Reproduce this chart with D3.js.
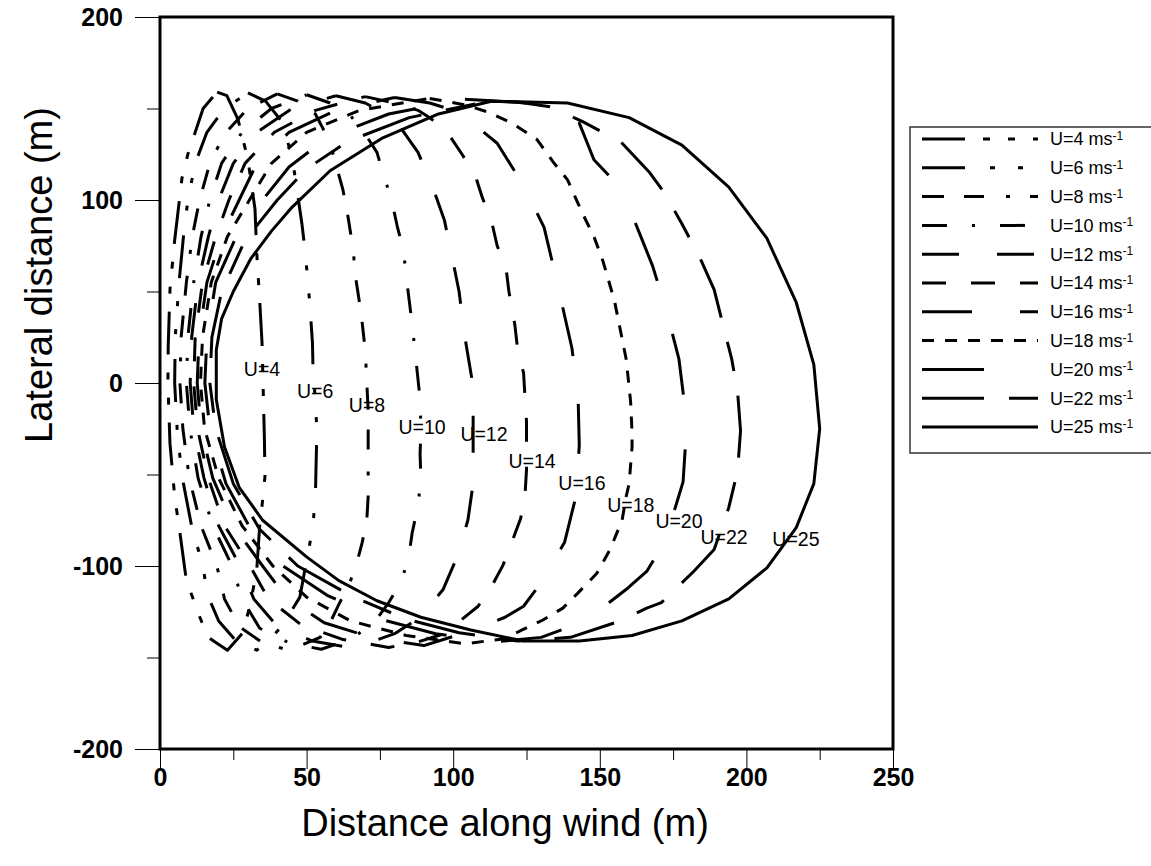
<!DOCTYPE html>
<html>
<head>
<meta charset="utf-8">
<script src="https://cdn.jsdelivr.net/npm/d3@7"></script>
<style>
    html, body { margin: 0; padding: 0; background: #fff; }
    svg { display: block; font-family: "Liberation Sans", Arial, sans-serif; }
</style>
</head>
<body>
<div id="chart"></div>
<script>
// wind speeds (m/s), one closed contour each
var speeds = [4, 6, 8, 10, 12, 14, 16, 18, 20, 22, 25];

// contour vertices [distance along wind (m), lateral distance (m)]
var u4  = [[19.5,159],[22.8,157],[26.6,144],[30,122],[32.4,95],[33,71],[34,45],[34.8,22],[35.2,-4],[35.6,-30],[35.8,-51],[35,-64],[34,-78],[33,-102],[30.7,-122],[28,-137],[23,-146],[16.4,-139],[13.6,-128],[9,-108],[6.8,-82],[5,-62],[3.4,-33],[2.7,0],[2.8,20],[3.4,51],[5,78],[7.5,112],[9.5,125],[12,137],[14.7,150],[19.5,159]];
var u6  = [[30,158.5],[36,154],[42,142],[45.4,120],[48.4,87],[49.5,72],[51,45],[52,22],[52.2,7],[53,-10],[53.5,-26],[53.2,-47],[53,-63],[52,-80],[50,-97],[47.7,-117],[42,-132],[37,-141],[33,-146],[26,-141],[20,-130],[16,-115],[14.7,-100],[11,-80],[8,-55],[6,-30],[5,0],[5.2,25],[6.5,55],[8,80],[9.5,100],[12,120],[16,137],[22,150],[30,158.5]];
var u8  = [[40,158],[47,154],[53,147],[55.6,139],[58.7,127],[62.4,105.5],[63.8,94],[65,82],[66,71],[66.5,60],[68.6,38],[70,18],[70.6,-2],[71,-15],[71,-35],[71,-51],[71,-62],[70.6,-73],[69,-87],[67.5,-96],[64.8,-109],[61,-121],[58,-131],[54.6,-139],[44,-146],[35,-142],[27,-133],[22,-118],[19.4,-100],[14,-78],[10,-52],[7.8,-25],[6.8,0],[7.2,25],[9,55],[11,80],[13.5,100],[17,120],[22,136],[30,150],[40,158]];
var u10 = [[50,157.5],[58,153],[65,146],[70,136],[74,126],[76,115],[79,100],[81,85],[83,73],[84,58],[85,45],[86,32],[87,17],[88,2],[88.7,-9],[89,-25],[88.7,-39],[89,-52],[88,-67],[86,-82],[85,-93],[82.5,-108],[78,-120],[73,-131],[65,-140],[55,-145.5],[44,-142],[34,-134],[28,-118],[24.6,-100],[18,-78],[13,-52],[10.2,-25],[9,0],[9.5,25],[11.5,55],[14,80],[17,100],[21,120],[28,137],[38,150],[50,157.5]];
var u12 = [[60,157],[70,153],[77,147],[81,142],[88,126],[93,107],[97,89],[99.6,69],[102,50],[104,25],[106.4,2],[106.8,-15],[106.8,-35],[106.8,-55],[105,-75],[101.6,-94],[96.5,-113],[88.7,-128],[80,-137],[66,-145],[52,-141],[40,-133],[32,-118],[27.3,-100],[20,-78],[15,-52],[11.5,-25],[10.3,0],[10.8,25],[13,55],[16.5,80],[20,100],[25,120],[33,137],[45,150],[60,157]];
var u14 = [[70,156.5],[80,153],[88,149],[92,145],[98,137],[103,125],[107.4,114],[110,101],[113,89],[115,75],[118,63],[119,50],[121,32],[122,18],[124,5.5],[124.5,-8],[125,-21],[125,-35],[125,-47.5],[124.5,-61],[123,-74],[120,-87],[117,-99.5],[113,-111.5],[108.5,-122],[101.6,-131],[95.5,-137.7],[88,-141.5],[78,-144.5],[62,-140],[48,-132],[37,-118],[30.7,-100],[22,-78],[16.5,-52],[12.8,-25],[11.5,0],[12,25],[14.5,55],[19,80],[23.5,100],[29,120],[39,137],[53,149],[70,156.5]];
var u16 = [[80,156],[92,153],[102,148],[115,131],[124,108],[131,85],[135,58],[140.5,19],[142.6,-8],[143,-34],[142,-61],[138,-87],[129.6,-110],[124,-122],[117.7,-128],[105,-136],[90,-143.5],[72,-139],[56,-131],[43,-117],[35,-100],[25,-78],[18,-52],[14,-25],[12.7,0],[13.3,25],[16,55],[21,80],[27,100],[33,120],[44,137],[60,149],[80,156]];
var u18 = [[92,155.5],[104,152],[112,148],[120,142],[128.6,133],[134,121],[139,111],[144,93],[148,80],[151,67],[155,45],[159,13],[160.5,-10],[161,-27],[161,-35],[160,-55],[159,-62],[157.6,-75],[153.5,-91],[149,-104],[143,-114],[137.4,-123],[130.6,-129.5],[122.8,-135.5],[117.7,-139.7],[104,-142.5],[84,-138],[65,-130],[50,-117],[38.5,-100],[28,-78],[20,-52],[15.2,-25],[13.8,0],[14.5,25],[17.5,55],[23,80],[30.5,100],[38,120],[50,137],[68,149],[92,155.5]];
var u20 = [[104,155],[116,154],[125,153],[134,148],[143,142],[148,122],[154.5,111],[160,96],[164,80],[168,64],[173,38],[177,13],[179.7,-22],[178.4,-54],[175,-72],[172,-87],[166,-103],[159.6,-112],[150,-124],[142,-132],[130,-139],[114,-141.5],[94,-137],[75,-129],[57,-116],[42,-100],[31,-80],[22.5,-55],[17,-25],[15.3,0],[16,25],[19,55],[26,80],[35,100],[44,118],[57,134],[78,147],[104,155]];
var u22 = [[112,154],[122,153.5],[133,151],[144,143],[151,137],[157,132],[167,115],[172,104],[178,87],[184,69],[189,51],[192,32],[195,13],[197,-5],[198,-26],[197,-48],[194,-68],[189,-91],[182,-103],[171,-120],[166,-123],[157,-130],[140,-139],[122,-141],[102,-136.5],[84,-129],[66,-117],[47,-100],[34,-80],[25,-55],[19,-25],[17,0],[17.7,25],[21,50],[29,78],[40,100],[50,117],[64,132],[85,145],[112,154]];
var u25 = [[113,154],[139,153],[160,145],[178,130],[194,107],[207,79],[217,44],[223,10],[225,-25],[223,-55],[217,-79],[207,-101],[194,-118],[178,-130],[161,-138],[143,-141],[124,-141],[106,-135],[89,-128],[74,-119],[61,-108],[50,-95],[35,-75],[27,-57],[22,-35],[19.2,-9],[19.2,18],[21,35],[25,50],[31,68],[38,83],[45,96],[58,116],[76,134],[95,147],[113,154]];

// in-plot labels "U=..", anchored (centre) at these data coordinates
var labelX = [34.8, 52.9, 70.6, 89.4, 110.5, 126.9, 143.9, 160.6, 177, 192.4, 216.9];
var labelY = [7.7, -4.4, -12, -24, -27.9, -42.6, -54.6, -66.7, -75.4, -84.2, -85.2];

var xTicks = [0, 50, 100, 150, 200, 250];
var yTicks = [-200, -100, 0, 100, 200];

(function () {

    var W = 1151, H = 866;
    var FONT = "'Liberation Sans', Arial, sans-serif";

    var contours = [u4, u6, u8, u10, u12, u14, u16, u18, u20, u22, u25];

    // dash patterns, same order as speeds (px)
    var dashes = [
        "43 18 7 18 7 18",
        "43 25 5 23 5 23",
        "22 20 20 22 4 20",
        "25 25 3 25",
        "37 38",
        "24 25",
        "50 48",
        "12 11",
        "62 55",
        "62 25 30 25",
        null
    ];

    var svg = d3.select("#chart")
        .append("svg")
        .attr("width",  W)
        .attr("height", H);

    var x = d3.scaleLinear().domain([0, 250]).range([160, 893]);
    var y = d3.scaleLinear().domain([-200, 200]).range([749, 17]);

    /* labels under the lines */
    svg.append("g").selectAll("text")
        .data(speeds)
        .enter().append("text")
        .attr("x", function (d, i) { return x(labelX[i]); })
        .attr("y", function (d, i) { return y(labelY[i]); })
        .attr("dy", "0.36em")
        .attr("text-anchor", "middle")
        .style("font-family", FONT)
        .style("font-size", "19.5px")
        .style("fill", "#000")
        .text(function (d) { return "U=" + d; });

    /* contours */
    var line = d3.line()
        .x(function (d) { return x(d[0]); })
        .y(function (d) { return y(d[1]); });

    svg.append("g").selectAll("path")
        .data(contours)
        .enter().append("path")
        .attr("d", line)
        .attr("fill", "none")
        .attr("stroke", "#000")
        .attr("stroke-width", 3)
        .attr("stroke-linejoin", "round")
        .attr("stroke-dasharray", function (d, i) { return dashes[i]; });

    /* axes */
    var xAxis = d3.axisBottom(x)
        .tickValues(d3.range(0, 251, 25))
        .tickSize(0)
        .tickFormat("");
    var gx = svg.append("g").attr("transform", "translate(0,749)").call(xAxis);
    gx.select(".domain").remove();
    gx.selectAll(".tick line")
        .attr("y2", function (d) { return d % 50 === 0 ? 20 : 11; })
        .attr("stroke", "#000").attr("stroke-width", 1);
    gx.selectAll(".tick").filter(function (d) { return xTicks.indexOf(d) >= 0; })
        .append("text")
        .attr("y", 28)
        .attr("dy", "0.35em")
        .attr("text-anchor", "middle")
        .style("font-family", FONT)
        .style("font-size", "25px")
        .style("font-weight", "bold")
        .style("fill", "#000")
        .text(function (d) { return d; });

    var yAxis = d3.axisLeft(y)
        .tickValues(d3.range(-200, 201, 50))
        .tickSize(0)
        .tickFormat("");
    var gy = svg.append("g").attr("transform", "translate(160,0)").call(yAxis);
    gy.select(".domain").remove();
    gy.selectAll(".tick line")
        .attr("x2", function (d) { return d % 100 === 0 ? -25 : -13; })
        .attr("stroke", "#000").attr("stroke-width", 1);
    gy.selectAll(".tick").filter(function (d) { return yTicks.indexOf(d) >= 0; })
        .append("text")
        .attr("x", -37)
        .attr("dy", "0.35em")
        .attr("text-anchor", "end")
        .style("font-family", FONT)
        .style("font-size", "25px")
        .style("font-weight", "bold")
        .style("fill", "#000")
        .text(function (d) { return d; });

    // frame
    svg.append("rect")
        .attr("x", x(0)).attr("y", y(200))
        .attr("width", x(250) - x(0))
        .attr("height", y(-200) - y(200))
        .attr("fill", "none")
        .attr("stroke", "#000")
        .attr("stroke-width", 3);

    // axis titles
    svg.append("text")
        .attr("x", 505).attr("y", 836)
        .attr("text-anchor", "middle")
        .style("font-family", FONT)
        .style("font-size", "38px")
        .text("Distance along wind (m)");

    svg.append("text")
        .attr("transform", "translate(52,275) rotate(-90)")
        .attr("text-anchor", "middle")
        .style("font-family", FONT)
        .style("font-size", "38px")
        .text("Lateral distance (m)");

    /* legend */
    var legend = svg.append("g").attr("class", "chart-legend");
    legend.append("rect")
        .attr("x", 910).attr("y", 127)
        .attr("width", 260).attr("height", 326)
        .attr("fill", "#fff")
        .attr("stroke", "#333")
        .attr("stroke-width", 1.5);

    speeds.forEach(function (s, i) {
        var ly = 139 + i * 28.8;
        var g = legend.append("g");
        g.append("line")
            .attr("x1", 922).attr("x2", 1038)
            .attr("y1", ly).attr("y2", ly)
            .attr("stroke", "#000")
            .attr("stroke-width", 3)
            .attr("stroke-dasharray", dashes[i]);
        var t = g.append("text")
            .attr("x", 1050).attr("y", ly)
            .attr("dy", "0.36em")
            .style("font-family", FONT)
            .style("font-size", "18px")
            .style("fill", "#000");
        t.append("tspan").text("U=" + s + " ms");
        t.append("tspan")
            .attr("dy", "-0.45em")
            .style("font-size", "12px")
            .text("-1");
    });

}());
</script>
</body>
</html>
